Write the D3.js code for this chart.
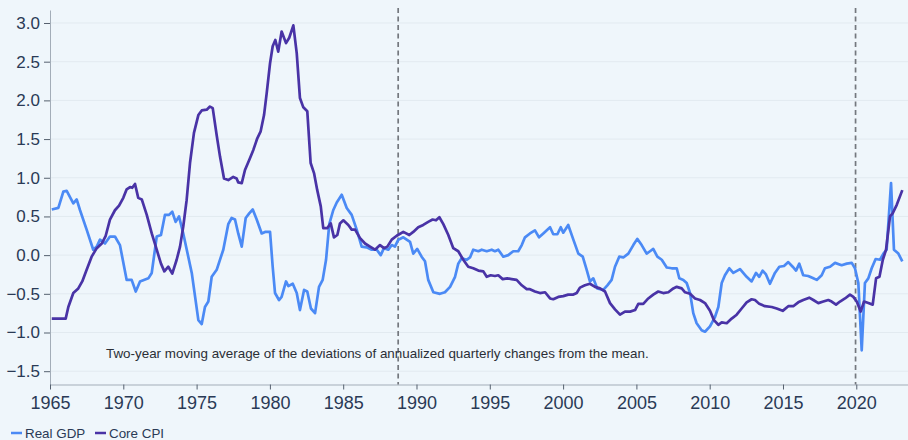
<!DOCTYPE html>
<html>
<head>
<meta charset="utf-8">
<script src="https://cdn.jsdelivr.net/npm/d3@7"></script>
<style>
  html, body { margin: 0; padding: 0; background: #eff6fb; }
  svg { display: block; font-family: "Liberation Sans", Arial, sans-serif; }
</style>
</head>
<body>
<svg id="chart" width="908" height="440"></svg>
<script>
// ---- Data ----
const yTickValues = [-1.5, -1.0, -0.5, 0.0, 0.5, 1.0, 1.5, 2.0, 2.5, 3.0];
const xTickValues = [1965, 1970, 1975, 1980, 1985, 1990, 1995, 2000, 2005, 2010, 2015, 2020];
const seriesNames = ["Real GDP", "Core CPI"];
const eventDates = [1988.75, 2019.95];
const noteText = "Two-year moving average of the deviations of annualized quarterly changes from the mean.";

const gdpDates = [1965.12,1965.57,1965.91,1966.14,1966.59,1966.82,1967.05,1967.50,1967.95,1968.19,1968.41,1968.75,1969.09,1969.43,1969.77,1970.23,1970.57,1970.85,1971.14,1971.71,1971.94,1972.28,1972.57,1972.84,1973.12,1973.34,1973.57,1973.80,1974.09,1974.67,1975.12,1975.35,1975.57,1975.80,1976.03,1976.37,1976.82,1977.16,1977.39,1977.62,1977.84,1978.08,1978.35,1978.59,1978.83,1979.10,1979.44,1979.67,1980.01,1980.19,1980.35,1980.62,1980.80,1981.10,1981.26,1981.56,1981.83,1982.05,1982.33,1982.55,1982.80,1983.08,1983.35,1983.60,1983.83,1984.05,1984.32,1984.56,1984.90,1985.24,1985.58,1985.92,1986.26,1986.60,1986.94,1987.29,1987.56,1987.78,1988.08,1988.31,1988.53,1988.76,1989.10,1989.56,1989.78,1990.05,1990.35,1990.58,1990.80,1991.15,1991.60,1991.94,1992.29,1992.63,1992.85,1993.08,1993.42,1993.65,1993.87,1994.22,1994.45,1994.79,1995.13,1995.35,1995.58,1995.92,1996.26,1996.60,1996.94,1997.18,1997.40,1997.74,1998.08,1998.36,1998.65,1999.11,1999.33,1999.61,1999.84,2000.01,2000.35,2000.70,2001.04,2001.34,2001.61,2001.83,2002.06,2002.33,2002.74,2003.02,2003.31,2003.54,2003.83,2004.11,2004.45,2004.79,2005.06,2005.36,2005.70,2005.93,2006.15,2006.43,2006.73,2007.07,2007.41,2007.75,2007.93,2008.20,2008.43,2008.66,2008.88,2009.11,2009.45,2009.68,2010.02,2010.36,2010.59,2010.82,2011.04,2011.34,2011.61,2012.07,2012.52,2012.86,2013.16,2013.38,2013.61,2013.84,2014.11,2014.45,2014.75,2015.07,2015.36,2015.66,2015.89,2016.11,2016.38,2016.72,2017.07,2017.30,2017.64,2017.86,2018.21,2018.55,2019.00,2019.35,2019.69,2019.91,2020.14,2020.37,2020.59,2020.82,2021.05,2021.32,2021.62,2021.85,2022.07,2022.37,2022.57,2022.87,2023.14];
const gdpValues = [0.59,0.61,0.82,0.83,0.67,0.72,0.58,0.33,0.07,0.11,0.20,0.15,0.24,0.24,0.13,-0.32,-0.32,-0.47,-0.34,-0.30,-0.23,0.24,0.26,0.52,0.52,0.56,0.43,0.50,0.28,-0.23,-0.84,-0.89,-0.67,-0.60,-0.28,-0.19,0.07,0.40,0.48,0.46,0.28,0.11,0.48,0.54,0.59,0.46,0.28,0.30,0.30,-0.15,-0.49,-0.58,-0.54,-0.34,-0.40,-0.37,-0.49,-0.71,-0.45,-0.47,-0.69,-0.75,-0.41,-0.32,-0.06,0.40,0.58,0.68,0.78,0.61,0.52,0.33,0.11,0.10,0.07,0.07,0.00,0.09,0.07,0.13,0.11,0.20,0.23,0.17,0.02,0.08,-0.02,-0.08,-0.32,-0.48,-0.50,-0.48,-0.41,-0.28,-0.11,-0.04,-0.06,-0.03,0.07,0.05,0.07,0.05,0.07,0.05,0.07,-0.02,0.00,0.05,0.05,0.13,0.23,0.28,0.32,0.23,0.28,0.36,0.27,0.27,0.36,0.29,0.39,0.20,0.02,-0.02,-0.19,-0.34,-0.30,-0.43,-0.45,-0.39,-0.32,-0.15,-0.02,-0.03,0.02,0.13,0.21,0.13,0.02,0.05,0.08,-0.02,-0.06,-0.16,-0.17,-0.17,-0.30,-0.32,-0.36,-0.49,-0.75,-0.88,-0.97,-0.99,-0.92,-0.80,-0.67,-0.36,-0.26,-0.17,-0.23,-0.18,-0.28,-0.34,-0.23,-0.28,-0.20,-0.25,-0.37,-0.23,-0.15,-0.14,-0.09,-0.15,-0.20,-0.11,-0.26,-0.27,-0.30,-0.32,-0.26,-0.17,-0.15,-0.10,-0.13,-0.11,-0.10,-0.17,-0.36,-1.23,-0.36,-0.30,-0.17,-0.05,-0.06,0.02,0.07,0.93,0.07,0.02,-0.08];

const cpiDates = [1965.12,1966.07,1966.25,1966.59,1966.93,1967.20,1967.50,1967.84,1968.19,1968.53,1968.80,1969.09,1969.43,1969.71,1970.00,1970.23,1970.46,1970.61,1970.80,1971.02,1971.26,1971.60,1971.94,1972.28,1972.57,1972.80,1973.07,1973.34,1973.64,1973.87,1974.09,1974.32,1974.55,1974.82,1975.12,1975.35,1975.69,1975.91,1976.10,1976.37,1976.60,1976.87,1977.16,1977.50,1977.73,1977.84,1978.08,1978.30,1978.59,1978.87,1979.14,1979.37,1979.60,1979.78,1980.01,1980.19,1980.37,1980.57,1980.80,1981.10,1981.32,1981.60,1981.83,1982.05,1982.28,1982.55,1982.78,1983.01,1983.23,1983.47,1983.64,1983.92,1984.15,1984.37,1984.60,1984.78,1985.01,1985.35,1985.58,1985.81,1986.15,1986.49,1986.83,1987.17,1987.51,1987.78,1988.01,1988.31,1988.65,1989.10,1989.51,1989.78,1990.12,1990.46,1990.80,1991.10,1991.33,1991.56,1991.83,1992.17,1992.51,1992.85,1993.19,1993.53,1993.87,1994.22,1994.56,1994.79,1995.06,1995.35,1995.58,1995.88,1996.19,1996.49,1996.83,1997.18,1997.52,1997.74,1998.08,1998.42,1998.77,1999.11,1999.33,1999.67,2000.01,2000.35,2000.70,2000.93,2001.15,2001.49,2001.83,2002.18,2002.52,2002.86,2003.20,2003.54,2003.88,2004.22,2004.57,2004.91,2005.13,2005.47,2005.81,2006.15,2006.49,2006.83,2007.18,2007.52,2007.75,2008.09,2008.32,2008.66,2009.00,2009.34,2009.68,2010.02,2010.29,2010.59,2010.82,2011.16,2011.50,2011.84,2012.18,2012.52,2012.86,2013.09,2013.38,2013.77,2014.23,2014.57,2014.98,2015.36,2015.70,2016.04,2016.38,2016.79,2017.07,2017.41,2017.75,2018.09,2018.32,2018.62,2018.89,2019.23,2019.57,2019.80,2020.03,2020.30,2020.53,2020.82,2021.12,2021.35,2021.58,2021.81,2022.03,2022.30,2022.48,2022.76,2023.14];
const cpiValues = [-0.82,-0.82,-0.67,-0.49,-0.43,-0.34,-0.19,-0.02,0.09,0.15,0.25,0.46,0.58,0.64,0.74,0.85,0.88,0.87,0.92,0.74,0.72,0.52,0.28,0.07,-0.11,-0.21,-0.15,-0.24,-0.06,0.11,0.37,0.71,1.19,1.58,1.81,1.87,1.88,1.92,1.90,1.55,1.27,0.99,0.97,1.01,0.99,0.94,0.93,1.10,1.23,1.36,1.51,1.60,1.81,2.09,2.48,2.70,2.78,2.63,2.89,2.74,2.81,2.97,2.61,2.03,1.91,1.86,1.19,1.06,0.84,0.63,0.35,0.35,0.41,0.23,0.26,0.41,0.45,0.39,0.33,0.33,0.22,0.15,0.11,0.07,0.13,0.09,0.11,0.20,0.25,0.30,0.26,0.30,0.36,0.39,0.43,0.46,0.45,0.49,0.40,0.26,0.09,0.05,-0.06,-0.15,-0.17,-0.20,-0.21,-0.28,-0.26,-0.27,-0.26,-0.31,-0.30,-0.31,-0.32,-0.39,-0.44,-0.44,-0.47,-0.49,-0.48,-0.56,-0.57,-0.54,-0.53,-0.51,-0.51,-0.49,-0.42,-0.39,-0.37,-0.41,-0.43,-0.47,-0.62,-0.70,-0.77,-0.73,-0.73,-0.71,-0.63,-0.63,-0.56,-0.51,-0.47,-0.49,-0.48,-0.43,-0.41,-0.43,-0.48,-0.50,-0.56,-0.58,-0.62,-0.72,-0.84,-0.90,-0.87,-0.88,-0.82,-0.77,-0.69,-0.61,-0.57,-0.58,-0.63,-0.66,-0.67,-0.69,-0.72,-0.66,-0.66,-0.61,-0.58,-0.55,-0.58,-0.62,-0.60,-0.58,-0.60,-0.64,-0.60,-0.56,-0.51,-0.54,-0.60,-0.73,-0.60,-0.62,-0.64,-0.30,-0.28,-0.06,0.07,0.50,0.54,0.65,0.84];

// ---- Layout ----
const W = 908, H = 440;
const plotLeft = 50, plotRight = 907.6, plotTop = 10, plotBottom = 384.5;
const colors = { gdp: "#4b8af5", cpi: "#4933a6" };
const textColor = "#2a3a56";

const svg = d3.select("#chart");
svg.append("rect").attr("width", W).attr("height", H).attr("fill", "#eff6fb");

const x = d3.scaleLinear().domain([1965, 2023.5]).range([plotLeft, plotRight]);
const y = d3.scaleLinear().domain([-1.672, 3.168]).range([plotBottom, plotTop]);

// gridlines
svg.append("g").selectAll("line").data(yTickValues).join("line")
  .attr("x1", plotLeft).attr("x2", W)
  .attr("y1", d => y(d)).attr("y2", d => y(d))
  .attr("stroke", "#e2eaf0").attr("stroke-width", 1);

// y axis
const yAxis = svg.append("g").attr("transform", `translate(${plotLeft},0)`)
  .call(d3.axisLeft(y).tickValues(yTickValues).tickFormat(d3.format(".1f")).tickSize(6).tickPadding(4).tickSizeOuter(0));
yAxis.select(".domain").attr("stroke", "#a3adb8");
yAxis.selectAll(".tick line").attr("stroke", "#55606e");
yAxis.selectAll(".tick text").attr("fill", textColor).style("font-size", "17px")
  .style("font-family", "'Liberation Sans', Arial, sans-serif");

// x axis
const xAxis = svg.append("g").attr("transform", `translate(0,${plotBottom})`)
  .call(d3.axisBottom(x).tickValues(xTickValues).tickFormat(d3.format("d")).tickSize(5).tickPadding(7).tickSizeOuter(0));
xAxis.select(".domain").attr("stroke", "#a3adb8");
xAxis.selectAll(".tick line").attr("stroke", "#55606e");
xAxis.selectAll(".tick text").attr("fill", textColor).style("font-size", "18px")
  .style("font-family", "'Liberation Sans', Arial, sans-serif");

// event dashed lines
svg.append("g").selectAll("line").data(eventDates).join("line")
  .attr("x1", d => x(d)).attr("x2", d => x(d))
  .attr("y1", 8).attr("y2", plotBottom)
  .attr("stroke", "#74787e").attr("stroke-width", 1.7).attr("stroke-dasharray", "5,3.5");

// note
svg.append("text").attr("x", 106).attr("y", 358)
  .attr("fill", "#2b2f36").style("font-size", "13.4px").text(noteText);

// lines
const line = d3.line().x(d => x(d[0])).y(d => y(d[1]));
const gdp = d3.zip(gdpDates, gdpValues);
const cpi = d3.zip(cpiDates, cpiValues);
svg.append("path").datum(gdp).attr("d", line).attr("fill", "none")
  .attr("stroke", colors.gdp).attr("stroke-width", 2.7).attr("stroke-linejoin", "round");
svg.append("path").datum(cpi).attr("d", line).attr("fill", "none")
  .attr("stroke", colors.cpi).attr("stroke-width", 2.7).attr("stroke-linejoin", "round");

// legend
const legend = svg.append("g");
const legendItems = [
  { name: seriesNames[0], color: colors.gdp, x0: 11 },
  { name: seriesNames[1], color: colors.cpi, x0: 95 }
];
legendItems.forEach(it => {
  legend.append("line").attr("x1", it.x0).attr("x2", it.x0 + 11).attr("y1", 433).attr("y2", 433)
    .attr("stroke", it.color).attr("stroke-width", 2.5);
  legend.append("text").attr("x", it.x0 + 14).attr("y", 437.5)
    .attr("fill", textColor).style("font-size", "13.4px").text(it.name);
});
</script>
</body>
</html>
